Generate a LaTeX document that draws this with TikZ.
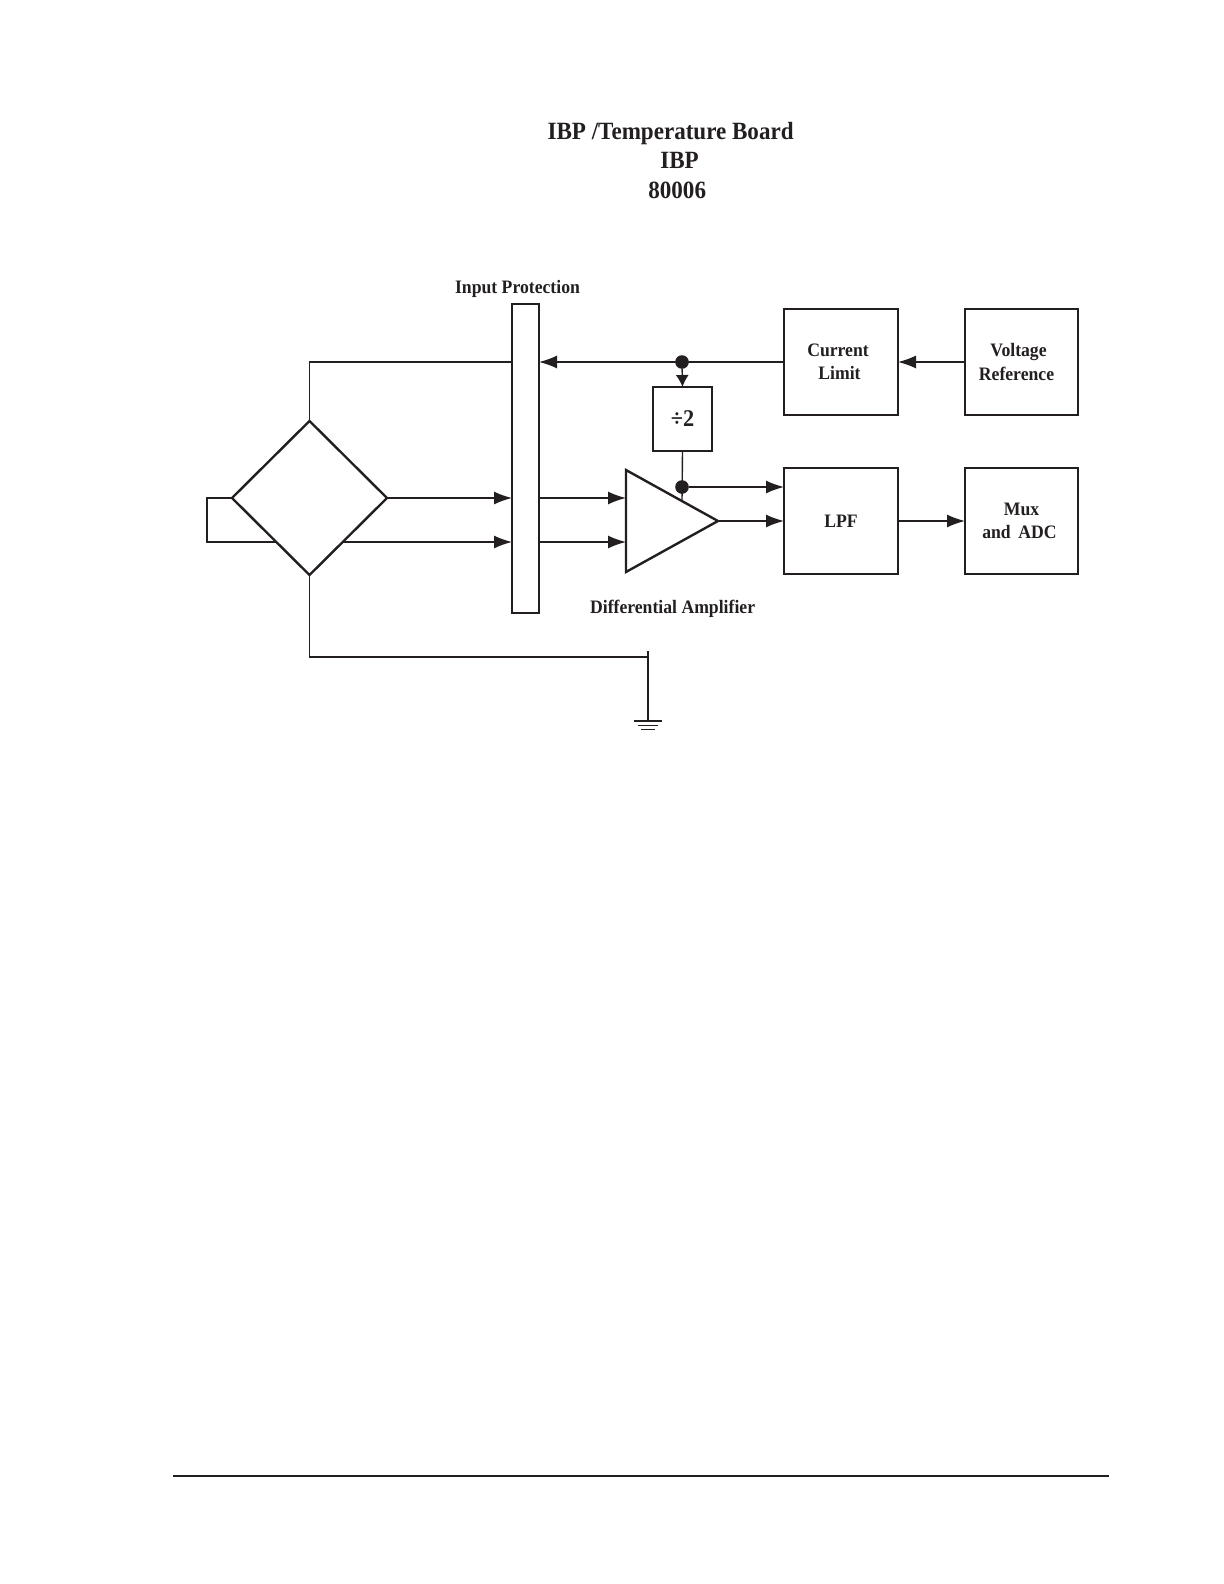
\documentclass[tikz,border=0pt]{standalone}
\usepackage{fontspec}
\setmainfont[FakeStretch=0.93]{Liberation Serif}
\usetikzlibrary{shapes,arrows.meta,positioning,calc}
\definecolor{inkgray}{HTML}{231F20}

\tikzset{
  block/.style={draw, line width=1.2pt, inner sep=0pt, outer sep=0pt, align=center, font=\fontsize{9.5}{11.6}\selectfont\bfseries},
  wire/.style={line width=0.7pt},
  flow/.style={wire, -{Latex[length=9pt,width=6.5pt]}},
  shortflow/.style={wire, -{Latex[length=6pt,width=6.5pt]}},
  jointdot/.style={circle, fill=inkgray, inner sep=0pt, minimum size=6.8pt},
  heading/.style={inner sep=0pt, font=\fontsize{9.5}{11}\selectfont\bfseries}
}

\begin{document}
\begin{tikzpicture}[x=0.5pt, y=-0.5pt, inkgray]
  \useasboundingbox (0,0) rectangle (1224,1584);

  % title
  \node[inner sep=0pt, align=center, font=\fontsize{12.4}{14.9}\selectfont\bfseries] (title) at (670.6,160.5)
    {IBP /Temperature Board\\\hspace*{9pt}IBP\\\hspace*{6.6pt}80006};

  % blocks
  \node[block, minimum width=57pt, minimum height=53pt] (current) at (841,362) {Current\hspace*{3pt}\\Limit\hspace*{1.5pt}};
  \node[block, minimum width=56.5pt, minimum height=53pt, right=33.5pt of current] (vref) {Voltage\hspace*{3pt}\\Reference\hspace*{5pt}};
  \node[block, minimum width=57pt, minimum height=53pt, below=26.5pt of current] (lpf) {LPF};
  \node[block, minimum width=56.5pt, minimum height=53pt, right=33.5pt of lpf] (mux) {Mux\\and\, ADC\hspace*{2pt}};
  \node[block, minimum width=29.5pt, minimum height=32pt] (div) at (682.5,419) {\fontsize{12}{14}\selectfont ÷2};
  \node[block, minimum width=13.5pt, minimum height=154.5pt] (protect) at (525.5,458.5) {};
  \node[block, shape=diamond, minimum width=77.5pt, minimum height=77pt] (sensor) at (309.5,498) {};
  \node[block, shape=isosceles triangle, isosceles triangle stretches, shape border rotate=0,
    minimum width=51pt, minimum height=46pt] (amp) at (656,521) {};

  % labels
  \node[heading, above=3pt of protect, xshift=-4pt] (protectlabel) {Input Protection};
  \node[heading, below=22pt of amp, xshift=8.3pt] (amplabel) {Differential Amplifier};

  % joints and free ends
  \node[jointdot] (topdot) at (682,362) {};
  \node[jointdot] (lowdot) at (682,487) {};
  \coordinate (ampedge) at (682,500);
  \coordinate (loopa) at (207,498);
  \coordinate (loopb) at (207,542);
  \coordinate (senseleft) at (276,542);
  \coordinate (senseright) at (343,542);
  \coordinate (gndwire) at (648,657);
  \coordinate (gndtop) at (648,651);
  \coordinate (gndbase) at (648,721);
  \coordinate (ampin1) at (626,498);
  \coordinate (ampin2) at (626,542);
  \coordinate (lpfin1) at (lpf.west |- lowdot);
  \coordinate (lpfin2) at (lpf.west |- amp.apex);

  % connectors
  \draw[flow] (vref.west) -- (current.east);
  \draw[flow] (current.west) -- (protect.east |- current.west);
  \draw[shortflow] (topdot) -- (div.north);
  \draw[wire] (div.south) -- (ampedge);
  \draw[flow] (lowdot) -- (lpfin1);
  \draw[flow] (amp.apex) -- (lpfin2);
  \draw[flow] (lpf.east |- lpfin2) -- (mux.west |- lpfin2);
  \draw[flow] (sensor.east) -- (protect.west |- sensor.east);
  \draw[flow] (senseright) -- (protect.west |- senseright);
  \draw[flow] (protect.east |- ampin1) -- (ampin1);
  \draw[flow] (protect.east |- ampin2) -- (ampin2);
  \draw[wire] (protect.west |- current.west) -| (sensor.north);
  \draw[wire] (sensor.west) -- (loopa) -- (loopb) -- (senseleft);
  \draw[wire] (sensor.south) |- (gndwire);
  \draw[wire] (gndtop) -- (gndbase);

  % ground
  \draw[wire] ($(gndbase)+(-14.3,0)$) -- ($(gndbase)+(14.3,0)$);
  \draw[wire] ($(gndbase)+(-10,4.5)$) -- ($(gndbase)+(10,4.5)$);
  \draw[wire] ($(gndbase)+(-7,8.5)$) -- ($(gndbase)+(7,8.5)$);

  % page rule
  \coordinate (ruleleft) at (173,1476);
  \coordinate (ruleright) at (1109,1476);
  \draw[line width=1pt] (ruleleft) -- (ruleright);
\end{tikzpicture}
\end{document}
